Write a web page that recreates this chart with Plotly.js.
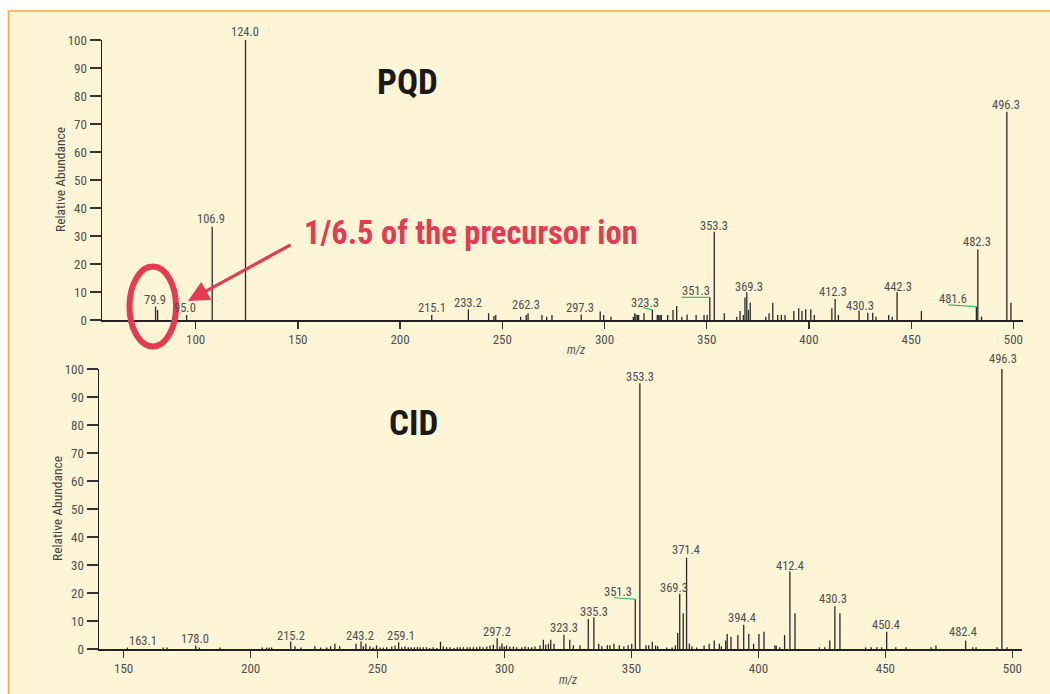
<!DOCTYPE html>
<html>
<head>
<meta charset="utf-8">
<script src="https://cdn.plot.ly/plotly-3.0.1.min.js"></script>
<style>
html,body{margin:0;padding:0;background:#fff;}
#chart{width:1050px;height:694px;}
</style>
</head>
<body>
<div id="chart"></div>
<script>
// ---------------- DATA ----------------
// PQD spectrum (top): m/z and relative abundance
const pqdMz = [80.4, 81.4, 95.6, 108.1, 124.4, 215.5, 233.4, 243.3, 245.9, 246.8, 259.0, 261.7, 262.6, 269.4, 271.7, 274.3,
  288.6, 297.9, 299.6, 303.2, 314.1, 314.8, 315.4, 316.2, 316.7, 319.3, 323.4, 325.8, 326.5, 327.2, 327.8, 330.9, 333.5,
  335.3, 337.8, 340.4, 344.8, 348.7, 350.2, 351.5, 353.7, 358.6, 364.7, 366.3, 367.9, 368.7, 369.6, 370.4, 371.3, 378.9,
  380.5, 382.3, 384.7, 386.5, 388.3, 392.6, 395.0, 396.6, 398.4, 400.9, 402.6, 411.2, 412.8, 414.4, 424.5, 428.8, 431.2,
  432.8, 439.0, 440.7, 443.1, 455.0, 481.9, 482.6, 484.4, 496.8, 498.8];
const pqdAb = [4.8, 3.6, 1.8, 33.3, 100, 1.8, 3.8, 2.4, 1.4, 1.8, 1.2, 1.8, 2.4, 1.8, 1.2, 1.8,
  2.0, 3.0, 1.8, 1.2, 1.2, 2.4, 2.0, 1.8, 1.8, 2.4, 3.6, 1.8, 1.8, 1.8, 1.8, 1.8, 3.6,
  5.0, 1.2, 2.0, 1.8, 1.8, 1.8, 8.1, 31.5, 2.4, 1.2, 3.2, 1.8, 8.0, 9.9, 3.6, 6.2, 1.2,
  2.4, 6.2, 1.8, 1.8, 1.8, 3.2, 4.2, 3.2, 3.8, 3.8, 1.8, 4.2, 7.5, 1.8, 3.3, 2.6, 2.6,
  1.2, 1.8, 1.2, 9.9, 3.2, 4.8, 25.2, 1.2, 74.4, 6.2];

// PQD peak labels: text, label centre m/z, label centre abundance
const pqdLabelText = ["79.9", "95.0", "106.9", "124.0", "215.1", "233.2", "262.3", "297.3", "323.3", "351.3", "353.3",
  "369.3", "412.3", "430.3", "442.3", "481.6", "482.3", "496.3"];
const pqdLabelMz = [80.1, 94.8, 107.5, 124.1, 215.6, 233.2, 261.6, 288.0, 319.8, 344.9, 353.4,
  370.6, 411.9, 425.0, 443.7, 470.5, 482.0, 496.6];
const pqdLabelAb = [7.5, 4.3, 36.1, 103.2, 4.3, 6.4, 5.4, 4.6, 6.2, 10.5, 33.6,
  12.1, 10.1, 5.2, 12.1, 7.7, 28.2, 77.0];
// green leader lines (label side m/z, abundance -> peak m/z, abundance)
const pqdLeaderFromMz = [319.0, 337.6, 468.2];
const pqdLeaderFromAb = [4.4, 8.1, 5.4];
const pqdLeaderToMz = [323.4, 351.5, 481.9];
const pqdLeaderToAb = [3.6, 8.1, 4.8];

// CID spectrum (bottom)
const cidMz = [151.5, 165.6, 167.1, 178.4, 179.8, 187.9, 204.6, 206.3, 207.3, 208.3, 215.8, 217.5, 219.8, 225.3, 227.6,
  230.0, 231.5, 233.2, 235.1, 241.5, 243.5, 244.4, 245.4, 247.0, 248.3, 249.6, 251.0, 252.3, 253.6, 255.6, 256.9, 258.3,
  259.5, 260.8, 262.1, 263.2, 264.5, 265.7, 266.7, 268.0, 269.3, 270.6, 271.9, 273.3, 274.8, 275.9, 277.2, 278.5, 280.1,
  281.4, 282.5, 283.8, 285.3, 286.4, 287.7, 289.0, 290.3, 291.6, 293.0, 294.3, 295.6, 297.1, 298.2, 299.0, 299.9, 300.8,
  302.1, 303.5, 304.8, 306.8, 308.1, 309.4, 310.7, 312.0, 314.0, 315.3, 316.2, 317.3, 318.2, 319.5, 323.4, 325.7, 327.1,
  329.7, 333.0, 335.2, 337.1, 338.3, 340.5, 341.5, 343.1, 345.2, 347.0, 348.7, 350.1, 351.5, 353.3, 355.7, 356.8, 358.2,
  359.5, 360.3, 363.9, 366.0, 367.3, 368.2, 369.0, 370.4, 371.7, 372.8, 373.8, 375.7, 378.6, 380.6, 382.6, 384.6, 385.4,
  387.1, 387.7, 389.2, 391.9, 394.2, 396.2, 398.1, 400.2, 402.2, 406.5, 407.0, 408.4, 410.3, 412.4, 414.4, 424.0, 426.1,
  428.1, 430.1, 432.1, 442.2, 444.4, 446.6, 448.5, 450.5, 454.1, 458.1, 468.0, 469.9, 481.6, 484.4, 485.7, 494.0, 495.9,
  497.9];
const cidAb = [0.5, 0.5, 0.5, 1.25, 0.5, 0.5, 0.5, 0.5, 0.5, 0.5, 2.7, 1.0, 0.5, 1.0, 0.5,
  0.5, 1.0, 1.9, 1.0, 1.9, 2.7, 1.0, 1.9, 1.0, 0.5, 1.3, 0.5, 0.5, 0.65, 0.9, 1.25, 2.4,
  0.65, 0.9, 0.65, 0.65, 0.65, 0.65, 0.65, 0.65, 0.65, 0.4, 0.65, 0.4, 2.6, 0.9, 0.65, 0.65, 0.4,
  0.65, 0.65, 0.65, 0.65, 0.65, 0.65, 0.65, 0.9, 0.65, 0.9, 1.25, 1.5, 3.8, 0.9, 2.0, 0.9, 1.25,
  0.9, 0.9, 0.65, 0.65, 0.9, 0.65, 0.65, 0.9, 1.25, 3.3, 1.5, 1.9, 3.3, 1.9, 5.1, 3.3, 1.3,
  1.3, 10.7, 11.3, 1.9, 1.0, 1.3, 1.3, 1.9, 1.3, 1.0, 1.3, 1.9, 17.8, 94.9, 1.3, 1.3, 2.6,
  1.3, 1.0, 0.5, 0.5, 1.3, 5.7, 19.7, 12.8, 32.6, 1.9, 1.0, 0.5, 1.25, 1.9, 3.0, 1.9, 0.95,
  3.0, 5.4, 4.4, 5.0, 8.7, 5.4, 1.9, 5.4, 6.2, 1.25, 1.25, 0.6, 5.0, 27.7, 12.8, 0.6, 0.6,
  3.0, 15.3, 12.8, 0.6, 0.6, 0.6, 0.6, 6.2, 0.6, 0.6, 0.6, 1.25, 3.0, 0.6, 0.6, 0.6, 101.7,
  0.6];

const cidLabelText = ["163.1", "178.0", "215.2", "243.2", "259.1", "297.2", "323.3", "335.3", "351.3", "353.3",
  "369.3", "371.4", "394.4", "412.4", "430.3", "450.4", "482.4", "496.3"];
const cidLabelMz = [157.7, 178.1, 215.8, 243.1, 259.2, 297.1, 323.4, 335.2, 344.8, 353.3,
  366.7, 371.3, 393.6, 412.3, 429.4, 450.1, 480.7, 496.3];
const cidLabelAb = [3.0, 3.9, 4.7, 4.7, 4.7, 6.3, 7.8, 13.4, 20.6, 97.2,
  22.1, 35.5, 11.4, 29.9, 18.2, 8.8, 6.3, 103.6];
const cidLeaderFromMz = [343.1];
const cidLeaderFromAb = [18.3];
const cidLeaderToMz = [351.5];
const cidLeaderToAb = [17.8];

const panelTitles = ["PQD", "CID"];
const calloutText = "1/6.5 of the precursor ion";
const yTitle = "Relative Abundance";
const xTitle = "m/z";

// ---------------- BUILD ----------------
const W = 1050, H = 694;
const px = v => v / W;          // pixel -> paper x
const py = v => 1 - v / H;      // pixel -> paper y
const PX_PER_UNIT = 2.8;        // vertical pixels per abundance unit
const FONT = "'Roboto Condensed', 'Liberation Sans Narrow', 'Liberation Sans', Arial, sans-serif";
const STICK = '#2a2a2a';
const LABEL = '#505050';
const GREEN = '#3dbb6b';
const RED = '#e63a52';

function sticks(mz, ab, xa, ya) {
  const x = [], y = [];
  mz.forEach((m, i) => { x.push(m, m, null); y.push(0, ab[i], null); });
  return {type: 'scatter', mode: 'lines', x, y, xaxis: xa, yaxis: ya, cliponaxis: false,
    line: {color: STICK, width: 1.3}, hoverinfo: 'skip', showlegend: false};
}
function leaders(fx, fy, tx, ty, xa, ya) {
  const x = [], y = [];
  fx.forEach((v, i) => { x.push(v, tx[i], null); y.push(fy[i], ty[i], null); });
  return {type: 'scatter', mode: 'lines', x, y, xaxis: xa, yaxis: ya, cliponaxis: false,
    line: {color: GREEN, width: 1.2}, hoverinfo: 'skip', showlegend: false};
}
function labels(txt, xs, ys, xr, yr) {
  return txt.map((t, i) => ({text: t, x: xs[i], y: Math.min(ys[i], 100),
    yshift: ys[i] > 100 ? (ys[i] - 100) * PX_PER_UNIT : 0,
    xref: xr, yref: yr, showarrow: false,
    xanchor: 'center', yanchor: 'middle', font: {family: FONT, size: 12.5, color: LABEL}}));
}

const traces = [
  sticks(pqdMz, pqdAb, 'x', 'y'),
  leaders(pqdLeaderFromMz, pqdLeaderFromAb, pqdLeaderToMz, pqdLeaderToAb, 'x', 'y'),
  sticks(cidMz, cidAb, 'x2', 'y2'),
  leaders(cidLeaderFromMz, cidLeaderFromAb, cidLeaderToMz, cidLeaderToAb, 'x2', 'y2')
];

const xCommon = {
  showgrid: false, zeroline: false, showline: true, linecolor: '#222', linewidth: 1.5,
  ticks: 'outside', ticklen: 7, tickwidth: 1.3, tickcolor: '#333', dtick: 50, tick0: 0,
  tickfont: {family: FONT, size: 13, color: LABEL}, fixedrange: true
};
const yCommon = {
  showgrid: false, zeroline: false, showline: true, linecolor: '#222', linewidth: 1.5,
  ticks: 'outside', ticklen: 11, tickwidth: 1.3, tickcolor: '#333', dtick: 10, tick0: 0,
  range: [0, 100], tickfont: {family: FONT, size: 13, color: LABEL}, fixedrange: true
};

const annotations = [].concat(
  labels(pqdLabelText, pqdLabelMz, pqdLabelAb, 'x', 'y'),
  labels(cidLabelText, cidLabelMz, cidLabelAb, 'x2', 'y2'),
  [
    {text: panelTitles[0], xref: 'paper', yref: 'paper', x: px(407), y: py(83), showarrow: false,
      xanchor: 'center', yanchor: 'middle', font: {family: FONT, size: 35, color: '#1a1a1a', weight: 'bold'}},
    {text: panelTitles[1], xref: 'paper', yref: 'paper', x: px(413), y: py(424), showarrow: false,
      xanchor: 'center', yanchor: 'middle', font: {family: FONT, size: 35, color: '#1a1a1a', weight: 'bold'}},
    {text: calloutText, xref: 'paper', yref: 'paper', x: px(302), y: py(233), showarrow: false,
      xanchor: 'left', yanchor: 'middle', font: {family: FONT, size: 32.5, color: RED, weight: 'bold'}},
    {text: '', xref: 'paper', yref: 'paper', x: px(188), y: py(301), showarrow: true,
      ax: 104, ay: -57, axref: 'pixel', ayref: 'pixel', arrowhead: 2, arrowsize: 1.3, arrowwidth: 3.2, arrowcolor: RED},
    {text: yTitle, xref: 'paper', yref: 'paper', x: px(60), y: py(180), showarrow: false, textangle: -90,
      xanchor: 'center', yanchor: 'middle', font: {family: FONT, size: 13.5, color: '#444'}},
    {text: yTitle, xref: 'paper', yref: 'paper', x: px(57), y: py(509), showarrow: false, textangle: -90,
      xanchor: 'center', yanchor: 'middle', font: {family: FONT, size: 13.5, color: '#444'}},
    {text: '<i>' + xTitle + '</i>', xref: 'paper', yref: 'paper', x: px(576), y: py(350), showarrow: false,
      xanchor: 'center', yanchor: 'middle', font: {family: FONT, size: 12, color: '#555'}},
    {text: '<i>' + xTitle + '</i>', xref: 'paper', yref: 'paper', x: px(568), y: py(680), showarrow: false,
      xanchor: 'center', yanchor: 'middle', font: {family: FONT, size: 12, color: '#555'}}
  ]
);

const layout = {
  width: W, height: H,
  margin: {l: 0, r: 0, t: 0, b: 0, pad: 0},
  paper_bgcolor: '#ffffff', plot_bgcolor: 'rgba(0,0,0,0)',
  showlegend: false,
  font: {family: FONT},
  xaxis: Object.assign({}, xCommon, {domain: [px(102), px(1023)], range: [54.2, 504.7], anchor: 'y'}),
  yaxis: Object.assign({}, yCommon, {domain: [py(320), py(40)], anchor: 'x'}),
  xaxis2: Object.assign({}, xCommon, {domain: [px(99), px(1022)], range: [140.3, 503.8], anchor: 'y2'}),
  yaxis2: Object.assign({}, yCommon, {domain: [py(649), py(369)], anchor: 'x2'}),
  shapes: [
    {type: 'rect', xref: 'paper', yref: 'paper', x0: px(8.5), x1: px(1060), y0: py(704), y1: py(11),
      fillcolor: '#fef4d6', line: {color: '#f5a93a', width: 1.5}, layer: 'below'},
    {type: 'circle', xref: 'paper', yref: 'paper', x0: px(129.5), x1: px(176), y0: py(346.5), y1: py(266.5),
      line: {color: RED, width: 6}, layer: 'above'}
  ],
  annotations: annotations
};

Plotly.newPlot('chart', traces, layout, {staticPlot: true, displayModeBar: false});
</script>
</body>
</html>
